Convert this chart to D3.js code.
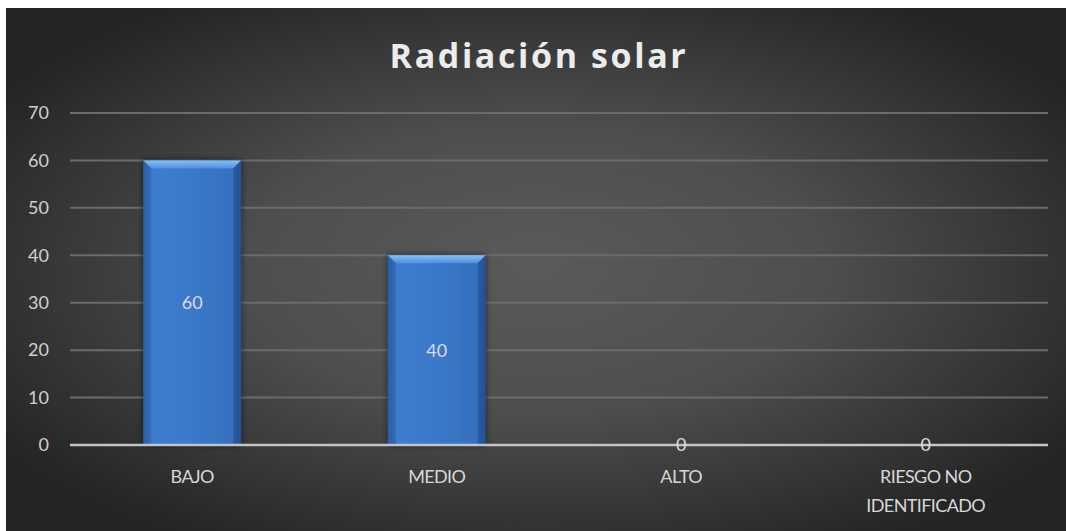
<!DOCTYPE html>
<html><head><meta charset="utf-8">
<script src="https://cdn.jsdelivr.net/npm/d3@7"></script>
<style>html,body{margin:0;padding:0;background:#fff;}svg{display:block;}</style>
</head><body>
<svg id="chart" width="1066" height="531"></svg>
<script>
const title = "Radiación solar";
const categories = ["BAJO", "MEDIO", "ALTO", "RIESGO NO IDENTIFICADO"];
const categoryLines = [["BAJO"], ["MEDIO"], ["ALTO"], ["RIESGO NO", "IDENTIFICADO"]];
const values = [60, 40, 0, 0];
const yTicks = [0, 10, 20, 30, 40, 50, 60, 70];

(function () {
const W = 1066, H = 531;
const svg = d3.select("#chart");
const defs = svg.append("defs");

const bg = defs.append("radialGradient").attr("id", "bg")
  .attr("cx", "50%").attr("cy", "50%").attr("r", "60%");
bg.append("stop").attr("offset", "0%").attr("stop-color", "#5a5a5a");
bg.append("stop").attr("offset", "45%").attr("stop-color", "#4e4e4e");
bg.append("stop").attr("offset", "100%").attr("stop-color", "#252525");

const barG = defs.append("linearGradient").attr("id", "barG").attr("x1", "0").attr("x2", "1").attr("y1", "0").attr("y2", "0");
barG.append("stop").attr("offset", "0%").attr("stop-color", "#2a5aa0");
barG.append("stop").attr("offset", "8%").attr("stop-color", "#3d7dd0");
barG.append("stop").attr("offset", "50%").attr("stop-color", "#3a78c9");
barG.append("stop").attr("offset", "92%").attr("stop-color", "#3570be");
barG.append("stop").attr("offset", "100%").attr("stop-color", "#24508f");

const topG = defs.append("linearGradient").attr("id", "topG").attr("x1", "0").attr("x2", "0").attr("y1", "0").attr("y2", "1");
topG.append("stop").attr("offset", "0%").attr("stop-color", "#84c0f8");
topG.append("stop").attr("offset", "100%").attr("stop-color", "#4f90e0");

const shadow = defs.append("filter").attr("id", "sh").attr("x", "-20%").attr("y", "-10%").attr("width", "140%").attr("height", "120%");
shadow.append("feGaussianBlur").attr("in", "SourceAlpha").attr("stdDeviation", 3);
shadow.append("feOffset").attr("dx", 0).attr("dy", 0).attr("result", "b");
shadow.append("feComponentTransfer").append("feFuncA").attr("type", "linear").attr("slope", 0.6);
const m = shadow.append("feMerge");
m.append("feMergeNode");
m.append("feMergeNode").attr("in", "SourceGraphic");

svg.append("rect").attr("x", 6).attr("y", 8).attr("width", W - 6).attr("height", H - 8).attr("fill", "url(#bg)");

const pLeft = 70, pRight = 1048, pTop = 113, pBottom = 445;
const x = d3.scaleBand().domain(categories).range([pLeft, pRight]).paddingInner(0.6).paddingOuter(0.3);
const y = d3.scaleLinear().domain([0, 70]).range([pBottom, pTop]);

const font = "Lato, 'Open Sans', sans-serif";

svg.append("text").attr("x", 539).attr("y", 68).attr("text-anchor", "middle")
  .attr("font-family", "'Open Sans', sans-serif").attr("font-weight", "bold")
  .attr("font-size", 34).attr("letter-spacing", 2.6).attr("fill", "#ececec").text(title);

svg.append("g").selectAll("line").data(yTicks.filter(d => d > 0)).join("line")
  .attr("x1", pLeft).attr("x2", pRight).attr("y1", d => y(d)).attr("y2", d => y(d))
  .attr("stroke", "#6b6b6b").attr("stroke-width", 2);

const yAxis = d3.axisLeft(y).tickValues(yTicks).tickSize(0).tickPadding(21);
const ya = svg.append("g").attr("transform", `translate(${pLeft},0)`).call(yAxis);
ya.select(".domain").remove();
ya.selectAll("text").attr("font-family", font).attr("font-size", 18).attr("fill", "#d0d0d0");

const bars = svg.append("g");
categories.forEach((c, i) => {
  const v = values[i];
  if (v <= 0) return;
  const bx = x(c), bw = x.bandwidth(), by = y(v), bh = y(0) - y(v);
  const g = bars.append("g").attr("filter", "url(#sh)");
  g.append("rect").attr("x", bx).attr("y", by).attr("width", bw).attr("height", bh).attr("fill", "url(#barG)");
  const bev = 8;
  g.append("path").attr("d", `M${bx},${by} L${bx + bw},${by} L${bx + bw - bev},${by + bev} L${bx + bev},${by + bev} Z`).attr("fill", "url(#topG)");
  g.append("path").attr("d", `M${bx},${by} L${bx + bev},${by + bev} L${bx + bev},${by + bh} L${bx},${by + bh} Z`).attr("fill", "#2d5fa8").attr("opacity", 0.6);
  g.append("path").attr("d", `M${bx + bw},${by} L${bx + bw - bev},${by + bev} L${bx + bw - bev},${by + bh} L${bx + bw},${by + bh} Z`).attr("fill", "#244f90").attr("opacity", 0.6);
});

svg.append("line").attr("x1", pLeft).attr("x2", pRight).attr("y1", y(0)).attr("y2", y(0))
  .attr("stroke", "#c4c4c4").attr("stroke-width", 2.5);

svg.append("g").selectAll("text").data(values).join("text")
  .attr("x", (d, i) => x(categories[i]) + x.bandwidth() / 2)
  .attr("y", d => (y(d) + y(0)) / 2)
  .attr("dy", "0.36em").attr("text-anchor", "middle")
  .attr("font-family", font).attr("font-size", 18).attr("fill", "#dcdcdc")
  .text(d => d);

const cl = svg.append("g");
categories.forEach((c, i) => {
  const t = cl.append("text").attr("x", x(c) + x.bandwidth() / 2).attr("y", 483)
    .attr("text-anchor", "middle").attr("font-family", font).attr("font-size", 18)
    .attr("letter-spacing", -0.6).attr("fill", "#d6d6d6");
  categoryLines[i].forEach((ln, j) => {
    t.append("tspan").attr("x", x(c) + x.bandwidth() / 2).attr("dy", j === 0 ? 0 : 29).text(ln);
  });
});
})();
</script>
</body></html>
